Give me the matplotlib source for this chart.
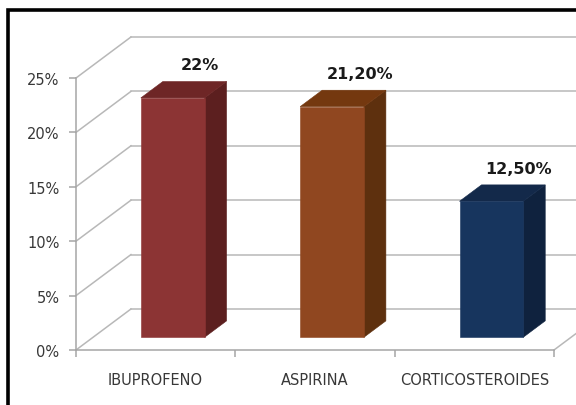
import numpy as np
import matplotlib.pyplot as plt
from matplotlib.patches import Polygon, Rectangle

"""Dados do gráfico"""
categorias = ['IBUPROFENO', 'ASPIRINA', 'CORTICOSTEROIDES']
valores = [22.0, 21.2, 12.5]
rotulos = ['22%', '21,20%', '12,50%']
yticks = [0, 5, 10, 15, 20, 25]

"""Cores das barras (frente, topo, lateral)"""
cor_frente = ['#8c3434', '#904720', '#17355e']
cor_topo = ['#6e2626', '#74380f', '#13294a']
cor_lado = ['#5c1f1f', '#5e300e', '#0f223e']

"""Perspectiva (deslocamento da parede do fundo em unidades de dados)"""
DX = 0.345   # em categorias
DY = 3.77    # em %
z0 = 0.31    # profundidade da face frontal da barra
prof = 0.40  # profundidade da barra
larg = 0.40  # largura da barra
cor_grade = '#b8b8b8'

fig = plt.figure(figsize=(5.76, 4.06), dpi=100)
ax = fig.add_axes([76/576, 55/406, 478/576, 272/406])
ax.set_xlim(0, len(categorias))
ax.set_ylim(0, 25)

'''Paredes: linhas de grade no fundo e na lateral esquerda'''
for v in yticks:
    ax.plot([0, DX], [v, v + DY], color=cor_grade, lw=1.1, clip_on=False, zorder=1)
    ax.plot([DX, len(categorias) + DX + 1], [v + DY, v + DY], color=cor_grade, lw=1.1,
            clip_on=False, zorder=1)
ax.plot([len(categorias), len(categorias) + DX], [0, DY], color=cor_grade, lw=1.1,
        clip_on=False, zorder=1)

'''Barras em 3D'''
for i, v in enumerate(valores):
    x0 = i + 0.5 - larg/2 + z0*DX
    x1 = x0 + larg
    yb = z0*DY
    yt = v + z0*DY
    ddx = prof*DX
    ddy = prof*DY
    frente = [(x0, yb), (x1, yb), (x1, yt), (x0, yt)]
    topo = [(x0, yt), (x1, yt), (x1 + ddx, yt + ddy), (x0 + ddx, yt + ddy)]
    lado = [(x1, yb), (x1 + ddx, yb + ddy), (x1 + ddx, yt + ddy), (x1, yt)]
    ax.add_patch(Polygon(lado, closed=True, fc=cor_lado[i], ec=cor_lado[i], lw=0.4,
                         clip_on=False, zorder=3))
    ax.add_patch(Polygon(topo, closed=True, fc=cor_topo[i], ec=cor_topo[i], lw=0.4,
                         clip_on=False, zorder=3))
    ax.add_patch(Polygon(frente, closed=True, fc=cor_frente[i], ec=cor_frente[i], lw=0.4,
                         clip_on=False, zorder=4))
    ax.annotate(rotulos[i], xy=(i + 0.5 + (z0 + prof)*DX, yt + ddy),
                xytext=(4, 12), textcoords='offset points', ha='center', va='center',
                fontsize=11.5, fontweight='bold', color='#1a1a1a', zorder=5)

'''Eixos'''
for s in ['top', 'right']:
    ax.spines[s].set_visible(False)
for s in ['left', 'bottom']:
    ax.spines[s].set_color('#a6a6a6')
    ax.spines[s].set_linewidth(1.1)
ax.set_facecolor('none')

ax.set_yticks(yticks)
ax.set_yticklabels([f'{v}%' for v in yticks])
ax.tick_params(axis='y', length=5, width=1.1, color='#a6a6a6', pad=7,
               labelsize=10.5, labelcolor='#383838')

ax.set_xticks(np.arange(len(categorias) + 1), minor=True)
ax.set_xticks(np.arange(len(categorias)) + 0.5)
ax.set_xticklabels(categorias)
ax.tick_params(axis='x', which='minor', length=5, width=1.1, color='#a6a6a6')
ax.tick_params(axis='x', which='major', length=0, pad=16, labelsize=10.5,
               labelcolor='#383838')

'''Moldura preta'''
fig.patches.append(Rectangle((8/576, -0.1), 1.2, (406 - 11)/406 + 0.1, transform=fig.transFigure,
                             fill=False, ec='black', lw=2.6, zorder=10))

fig.savefig('out.png', dpi=100)
